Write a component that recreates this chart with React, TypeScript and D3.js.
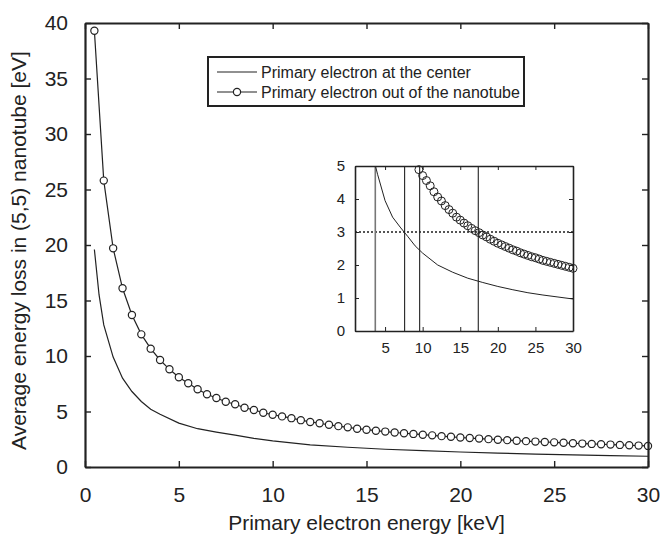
import * as d3 from "d3";
import { useEffect, useRef } from "react";

// primary electron out of the nanotube (circles), every 0.5 keV
const energyOut = [
  0.5, 1, 1.5, 2, 2.5, 3, 3.5, 4, 4.5, 5, 5.5, 6, 6.5, 7, 7.5, 8, 8.5, 9, 9.5, 10,
  10.5, 11, 11.5, 12, 12.5, 13, 13.5, 14, 14.5, 15, 15.5, 16, 16.5, 17, 17.5, 18,
  18.5, 19, 19.5, 20, 20.5, 21, 21.5, 22, 22.5, 23, 23.5, 24, 24.5, 25, 25.5, 26,
  26.5, 27, 27.5, 28, 28.5, 29, 29.5, 30,
];
const lossOut = [
  39.3, 25.8, 19.7, 16.1, 13.7, 11.95, 10.66, 9.64, 8.8, 8.08, 7.54, 7.0, 6.55,
  6.22, 5.88, 5.65, 5.34, 5.14, 4.89, 4.71, 4.56, 4.4, 4.22, 4.06, 3.94, 3.8, 3.68,
  3.57, 3.45, 3.36, 3.27, 3.19, 3.11, 3.04, 2.98, 2.91, 2.85, 2.78, 2.72, 2.66,
  2.61, 2.56, 2.51, 2.46, 2.42, 2.37, 2.33, 2.29, 2.25, 2.22, 2.18, 2.14, 2.11,
  2.08, 2.05, 2.02, 1.99, 1.96, 1.93, 1.9,
];

// primary electron at the center (plain line)
const energyCenter = [
  0.5, 0.75, 1, 1.5, 2, 2.5, 3, 3.5, 4, 5, 6, 7, 8, 9, 10, 12, 14, 16, 18, 20, 22,
  24, 26, 28, 30,
];
const lossCenter = [
  19.6, 15.5, 12.8, 9.9, 8.0, 6.8, 5.9, 5.2, 4.75, 3.95, 3.45, 3.15, 2.87, 2.58,
  2.36, 2.0, 1.78, 1.6, 1.47, 1.35, 1.25, 1.16, 1.09, 1.03, 0.97,
];

// inset markers: 3 eV level and the energies where the curves cross 5 and 3 eV
const insetLevel = 3;
const insetCrossings = [3.7, 7.6, 9.6, 17.4];

const xTicks = [0, 5, 10, 15, 20, 25, 30];
const yTicks = [0, 5, 10, 15, 20, 25, 30, 35, 40];
const insetXTicks = [5, 10, 15, 20, 25, 30];
const insetYTicks = [0, 1, 2, 3, 4, 5];

const legendLabels = [
  "Primary electron at the center",
  "Primary electron out of the nanotube",
];

export default function App() {
  const ref = useRef<SVGSVGElement>(null);

  useEffect(() => {
    document.body.style.margin = "0";
    const svg = d3.select(ref.current);
    svg.selectAll("*").remove();
    const ink = "#222";
    const font = "Liberation Sans, Arial, sans-serif";

    const outPts = energyOut.map((e, i) => ({ e, v: lossOut[i] }));
    const centerPts = energyCenter.map((e, i) => ({ e, v: lossCenter[i] }));

    // main plot
    const x = d3.scaleLinear().domain([0, 30]).range([85, 648]);
    const y = d3.scaleLinear().domain([0, 40]).range([467, 23]);

    const line = d3
      .line<{ e: number; v: number }>()
      .x((d) => x(d.e))
      .y((d) => y(d.v));

    svg
      .append("path")
      .attr("d", line(centerPts))
      .attr("fill", "none")
      .attr("stroke", ink)
      .attr("stroke-width", 1.2);

    svg
      .append("path")
      .attr("d", line(outPts))
      .attr("fill", "none")
      .attr("stroke", ink)
      .attr("stroke-width", 1.2);

    svg
      .append("g")
      .selectAll("circle")
      .data(outPts)
      .enter()
      .append("circle")
      .attr("cx", (d) => x(d.e))
      .attr("cy", (d) => y(d.v))
      .attr("r", 3.6)
      .attr("fill", "white")
      .attr("stroke", ink)
      .attr("stroke-width", 1.2);

    // axes with inward ticks on all four sides
    const axisG = svg.append("g");
    axisG
      .append("g")
      .attr("transform", `translate(0,${y(0)})`)
      .call(d3.axisBottom(x).tickValues(xTicks).tickSizeInner(-6).tickSizeOuter(0).tickPadding(20));
    axisG
      .append("g")
      .attr("transform", `translate(0,${y(40)})`)
      .call(d3.axisTop(x).tickValues(xTicks).tickSizeInner(-6).tickSizeOuter(0).tickFormat(() => ""));
    axisG
      .append("g")
      .attr("transform", `translate(${x(0)},0)`)
      .call(d3.axisLeft(y).tickValues(yTicks).tickSizeInner(-6).tickSizeOuter(0).tickPadding(17));
    axisG
      .append("g")
      .attr("transform", `translate(${x(30)},0)`)
      .call(d3.axisRight(y).tickValues(yTicks).tickSizeInner(-6).tickSizeOuter(0).tickFormat(() => ""));
    axisG.selectAll(".domain").attr("stroke", ink).attr("stroke-width", 2.2);
    axisG.selectAll(".tick line").attr("stroke", ink).attr("stroke-width", 1.4);
    axisG
      .selectAll(".tick text")
      .attr("fill", ink)
      .attr("font-family", font)
      .attr("font-size", 21);

    svg
      .append("text")
      .attr("x", x(15))
      .attr("y", 530)
      .attr("text-anchor", "middle")
      .attr("font-family", font)
      .attr("font-size", 21)
      .attr("fill", ink)
      .text("Primary electron energy [keV]");

    svg
      .append("text")
      .attr("transform", `translate(26,${y(19.5)}) rotate(-90)`)
      .attr("text-anchor", "middle")
      .attr("font-family", font)
      .attr("font-size", 21)
      .attr("fill", ink)
      .text("Average energy loss in (5,5) nanotube [eV]");

    // legend
    const lg = svg.append("g").attr("font-family", font).attr("font-size", 16);
    lg.append("rect")
      .attr("x", 208)
      .attr("y", 57)
      .attr("width", 316)
      .attr("height", 49)
      .attr("fill", "white")
      .attr("stroke", ink)
      .attr("stroke-width", 2);
    legendLabels.forEach((label, i) => {
      const ly = 72 + i * 20;
      lg.append("line")
        .attr("x1", 217)
        .attr("x2", 257)
        .attr("y1", ly)
        .attr("y2", ly)
        .attr("stroke", ink)
        .attr("stroke-width", 1.2);
      if (i === 1) {
        lg.append("circle")
          .attr("cx", 237)
          .attr("cy", ly)
          .attr("r", 3.6)
          .attr("fill", "white")
          .attr("stroke", ink)
          .attr("stroke-width", 1.2);
      }
      lg.append("text")
        .attr("x", 261)
        .attr("y", ly + 5.5)
        .attr("fill", ink)
        .text(label);
    });

    // inset
    const ix = d3.scaleLinear().domain([1, 30]).range([355, 573]);
    const iy = d3.scaleLinear().domain([0, 5]).range([331, 166]);
    const inset = svg.append("g");
    inset
      .append("rect")
      .attr("x", 355)
      .attr("y", 166)
      .attr("width", 218)
      .attr("height", 165)
      .attr("fill", "white");

    svg
      .append("clipPath")
      .attr("id", "inset-clip")
      .append("rect")
      .attr("x", 355)
      .attr("y", 166)
      .attr("width", 218)
      .attr("height", 165);

    const iline = d3
      .line<{ e: number; v: number }>()
      .x((d) => ix(d.e))
      .y((d) => iy(d.v));

    const inner = inset.append("g").attr("clip-path", "url(#inset-clip)");
    inner
      .append("line")
      .attr("x1", ix(1))
      .attr("x2", ix(30))
      .attr("y1", iy(insetLevel))
      .attr("y2", iy(insetLevel))
      .attr("stroke", "#555")
      .attr("stroke-width", 2)
      .attr("stroke-dasharray", "2,2");
    inner
      .selectAll(".vline")
      .data(insetCrossings)
      .enter()
      .append("line")
      .attr("x1", (d) => ix(d))
      .attr("x2", (d) => ix(d))
      .attr("y1", iy(0))
      .attr("y2", iy(5))
      .attr("stroke", (d, i) => (i === 0 ? "#777" : ink))
      .attr("stroke-width", (d, i) => (i === 0 ? 1.6 : 1.1));
    inner
      .append("path")
      .attr("d", iline(centerPts))
      .attr("fill", "none")
      .attr("stroke", ink)
      .attr("stroke-width", 1);

    inset
      .append("g")
      .selectAll("circle")
      .data(outPts.filter((d) => d.v <= 5))
      .enter()
      .append("circle")
      .attr("cx", (d) => ix(d.e))
      .attr("cy", (d) => iy(d.v))
      .attr("r", 4)
      .attr("fill", "none")
      .attr("stroke", ink)
      .attr("stroke-width", 1);

    const insetAxes = inset.append("g");
    insetAxes
      .append("g")
      .attr("transform", `translate(0,${iy(0)})`)
      .call(
        d3
          .axisBottom(ix)
          .tickValues(insetXTicks)
          .tickSizeInner(-4)
          .tickSizeOuter(0)
          .tickPadding(11)
          .tickFormat(d3.format("d"))
      );
    insetAxes
      .append("g")
      .attr("transform", `translate(0,${iy(5)})`)
      .call(d3.axisTop(ix).tickValues(insetXTicks).tickSizeInner(-4).tickSizeOuter(0).tickFormat(() => ""));
    insetAxes
      .append("g")
      .attr("transform", `translate(${ix(1)},0)`)
      .call(
        d3
          .axisLeft(iy)
          .tickValues(insetYTicks)
          .tickSizeInner(-4)
          .tickSizeOuter(0)
          .tickPadding(10)
          .tickFormat(d3.format("d"))
      );
    insetAxes
      .append("g")
      .attr("transform", `translate(${ix(30)},0)`)
      .call(d3.axisRight(iy).tickValues(insetYTicks).tickSizeInner(-4).tickSizeOuter(0).tickFormat(() => ""));
    insetAxes.selectAll(".domain").attr("stroke", ink).attr("stroke-width", 1.6);
    insetAxes.selectAll(".tick line").attr("stroke", ink);
    insetAxes
      .selectAll(".tick text")
      .attr("fill", ink)
      .attr("font-family", font)
      .attr("font-size", 15);
  }, []);

  return <svg ref={ref} width={662} height={535} style={{ display: "block" }}></svg>;
}
